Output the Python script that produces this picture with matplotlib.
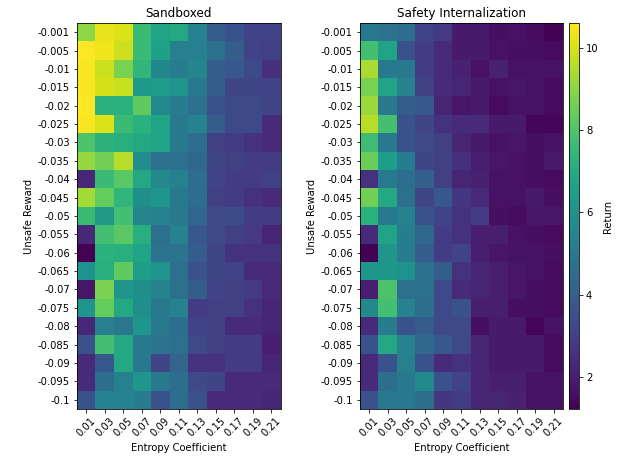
import matplotlib
matplotlib.use("Agg")
import matplotlib.pyplot as plt
import numpy as np

# eixos do heatmap
entropy_coefs = ["0.01", "0.03", "0.05", "0.07", "0.09", "0.11",
                 "0.13", "0.15", "0.17", "0.19", "0.21"]
unsafe_rewards = ["-0.001", "-0.005", "-0.01", "-0.015", "-0.02", "-0.025",
                  "-0.03", "-0.035", "-0.04", "-0.045", "-0.05", "-0.055",
                  "-0.06", "-0.065", "-0.07", "-0.075", "-0.08", "-0.085",
                  "-0.09", "-0.095", "-0.1"]

# retorno médio - ambiente sandboxed
ret_sandboxed = [
    [9.0, 10.3, 10.1, 7.6, 6.7, 6.9, 5.4, 4.0, 3.6, 3.1, 3.1],
    [10.6, 10.4, 9.9, 7.6, 6.6, 5.3, 5.3, 4.7, 4.0, 3.1, 3.0],
    [10.5, 9.9, 8.7, 7.4, 5.6, 5.2, 5.5, 4.0, 3.8, 3.3, 2.5],
    [10.5, 10.0, 9.8, 6.3, 6.4, 6.1, 5.0, 4.0, 3.2, 3.2, 3.1],
    [10.6, 7.2, 7.2, 8.3, 5.7, 5.2, 4.7, 3.6, 3.3, 3.3, 3.2],
    [10.5, 10.1, 7.6, 7.2, 6.7, 5.0, 5.4, 4.0, 3.3, 3.3, 2.4],
    [8.0, 7.3, 7.1, 6.9, 6.7, 5.0, 4.6, 3.0, 2.9, 2.6, 2.4],
    [9.1, 8.6, 9.6, 5.9, 4.7, 4.7, 4.4, 3.2, 3.0, 2.9, 2.9],
    [2.3, 7.6, 8.2, 6.9, 5.7, 5.3, 4.6, 3.1, 2.9, 2.9, 3.0],
    [9.3, 8.4, 7.4, 5.9, 6.1, 5.0, 4.6, 3.0, 2.9, 2.6, 2.4],
    [7.6, 6.3, 7.8, 5.5, 5.4, 5.0, 4.3, 3.3, 3.4, 2.9, 2.9],
    [2.3, 7.8, 8.2, 7.1, 4.7, 5.4, 3.8, 3.3, 3.0, 2.8, 2.2],
    [1.25, 7.2, 7.1, 6.7, 4.8, 4.8, 4.0, 3.2, 2.6, 2.6, 2.6],
    [6.0, 7.1, 8.3, 6.5, 6.1, 4.7, 3.6, 3.2, 3.1, 2.4, 2.4],
    [1.8, 8.7, 6.1, 5.9, 5.4, 4.7, 4.0, 3.1, 3.0, 2.8, 2.4],
    [6.1, 8.4, 6.9, 5.9, 5.0, 5.4, 2.9, 3.0, 3.0, 2.6, 2.2],
    [2.3, 5.3, 4.9, 6.1, 5.0, 4.6, 3.1, 3.0, 2.4, 2.4, 2.2],
    [3.6, 7.8, 6.9, 5.0, 4.8, 4.7, 3.3, 3.0, 2.9, 2.9, 2.0],
    [2.4, 3.8, 6.9, 5.0, 3.2, 4.3, 2.6, 2.6, 2.9, 2.9, 2.2],
    [2.4, 4.6, 5.3, 6.1, 5.0, 4.6, 3.3, 3.2, 2.4, 2.4, 2.4],
    [3.6, 5.4, 5.4, 5.2, 3.6, 4.6, 3.6, 2.4, 2.4, 2.4, 2.2],
]

# retorno médio - safety internalization
ret_internal = [
    [5.0, 4.8, 4.6, 3.1, 2.8, 1.9, 1.9, 1.6, 1.7, 1.5, 1.3],
    [7.8, 6.7, 3.6, 2.9, 2.4, 1.9, 1.9, 1.7, 1.6, 1.6, 1.5],
    [9.4, 5.0, 5.0, 2.9, 2.4, 2.1, 1.7, 2.1, 1.7, 1.7, 1.7],
    [8.7, 6.7, 5.4, 3.0, 2.4, 2.2, 1.9, 1.7, 1.8, 1.7, 1.5],
    [9.2, 5.0, 4.0, 3.8, 2.2, 1.8, 1.9, 1.5, 1.7, 1.7, 1.5],
    [9.6, 7.8, 3.6, 3.2, 2.6, 2.4, 2.4, 1.9, 1.9, 1.4, 1.4],
    [7.7, 5.0, 3.6, 3.3, 3.0, 2.2, 1.9, 1.7, 1.8, 1.6, 1.7],
    [8.5, 6.5, 5.2, 3.2, 3.0, 2.5, 2.0, 1.8, 1.7, 1.6, 1.9],
    [2.6, 5.1, 4.6, 4.1, 3.0, 2.2, 2.1, 1.7, 1.7, 1.6, 1.5],
    [8.6, 6.9, 4.7, 3.2, 3.8, 2.7, 2.4, 1.7, 1.7, 1.9, 1.6],
    [7.2, 5.0, 5.4, 3.6, 3.1, 2.6, 2.9, 1.6, 1.5, 1.8, 1.8],
    [2.4, 6.7, 5.2, 4.4, 2.9, 2.6, 2.0, 2.0, 1.7, 1.6, 1.5],
    [1.3, 6.1, 5.2, 4.0, 2.9, 3.1, 2.0, 1.8, 1.7, 1.7, 1.6],
    [6.2, 6.2, 6.0, 4.7, 4.0, 2.6, 2.2, 2.0, 1.8, 1.7, 1.5],
    [2.0, 8.0, 4.7, 4.7, 3.3, 2.4, 2.2, 2.0, 1.8, 1.6, 1.5],
    [5.7, 7.8, 5.4, 4.6, 3.3, 3.6, 2.0, 2.0, 1.6, 1.6, 1.5],
    [2.4, 5.2, 3.6, 4.0, 3.3, 3.3, 1.6, 1.9, 1.9, 1.4, 1.7],
    [3.6, 6.9, 5.4, 4.4, 3.8, 3.3, 2.2, 1.9, 1.9, 1.9, 1.5],
    [2.4, 3.6, 5.3, 3.6, 2.4, 2.6, 2.2, 1.9, 1.9, 1.9, 1.5],
    [2.4, 4.6, 5.0, 5.7, 3.6, 3.1, 2.2, 2.0, 2.0, 1.7, 1.7],
    [3.6, 5.0, 5.0, 4.6, 2.7, 2.9, 2.2, 2.2, 2.1, 1.7, 1.7],
]

vmin, vmax = 1.23, 10.6

# 72 dpi -> tamanhos de fonte como na figura original
fig = plt.figure(figsize=(619 / 72, 460 / 72), dpi=72)
ax1 = fig.add_axes([0.1244, 0.111, 0.329, 0.839])
ax2 = fig.add_axes([0.5816, 0.111, 0.3276, 0.839])
cax = fig.add_axes([0.9185, 0.111, 0.0168, 0.839])

for ax, dados, titulo in ((ax1, ret_sandboxed, "Sandboxed"),
                          (ax2, ret_internal, "Safety Internalization")):
    im = ax.imshow(np.array(dados), cmap="viridis", vmin=vmin, vmax=vmax,
                   aspect="auto", interpolation="nearest")
    ax.set_xticks(range(len(entropy_coefs)))
    ax.set_xticklabels(entropy_coefs, rotation=45)
    ax.set_yticks(range(len(unsafe_rewards)))
    ax.set_yticklabels(unsafe_rewards)
    ax.set_xlabel("Entropy Coefficient")
    ax.set_ylabel("Unsafe Reward")
    ax.set_title(titulo)

cb = fig.colorbar(im, cax=cax)
cb.set_label("Return")

plt.savefig("out.png", dpi=72)
plt.close()
